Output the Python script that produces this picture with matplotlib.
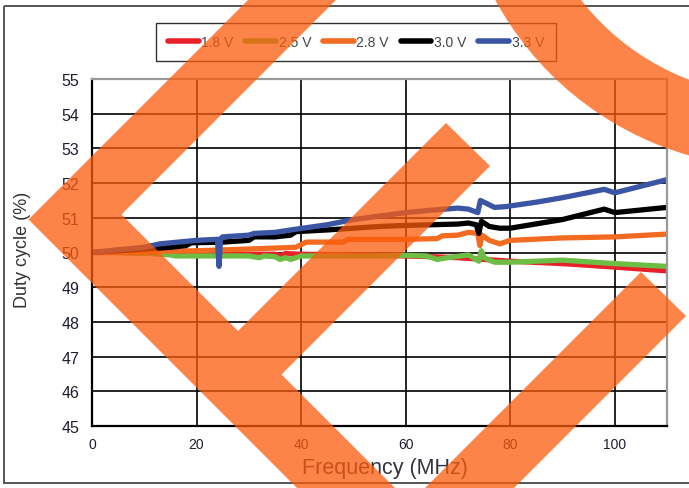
import numpy as np
import matplotlib
matplotlib.use('Agg')
import matplotlib.pyplot as plt
from matplotlib.patches import Polygon, Wedge, Rectangle

plt.rcParams['font.family'] = ['Liberation Sans', 'DejaVu Sans']

# duty cycle vs frequency
x_18 = [0, 5, 10, 15, 20, 30, 35, 36, 37, 40, 50, 60, 65, 70, 75, 80, 90, 100, 110]
y_18 = [50.0, 50.0, 49.98, 49.97, 49.95, 49.95, 49.95, 49.9, 49.97, 49.95, 49.93, 49.9, 49.88, 49.85, 49.8,
        49.75, 49.68, 49.58, 49.47]

x_25 = [0, 5, 10, 13, 15, 16, 20, 25, 30, 32, 33, 35, 36, 37, 38, 40, 45, 50, 55, 60, 64, 66, 68, 72,
        74, 74.5, 75, 77, 80, 90, 100, 110]
y_25 = [50.0, 50.0, 49.98, 49.95, 49.93, 49.9, 49.9, 49.9, 49.9, 49.85, 49.9, 49.88, 49.8, 49.85, 49.8,
        49.9, 49.9, 49.9, 49.9, 49.92, 49.9, 49.8, 49.85, 49.93, 49.75, 50.05, 49.85, 49.72, 49.72, 49.78,
        49.68, 49.6]

x_28 = [0, 10, 20, 30, 39, 41, 48, 49, 55, 60, 66, 67, 70, 72, 73.8, 74.2, 74.6, 76, 78, 80, 90, 100, 110]
y_28 = [50.0, 50.03, 50.05, 50.1, 50.15, 50.3, 50.3, 50.38, 50.38, 50.38, 50.4, 50.48, 50.5, 50.58, 50.55,
        50.2, 50.5, 50.35, 50.25, 50.35, 50.42, 50.45, 50.53]

x_30 = [0, 5, 10, 15, 18, 19, 25, 30, 31, 35, 38, 39, 45, 50, 55, 60, 65, 70, 72, 73.5, 74, 74.5, 76, 78,
        80, 90, 98, 100, 110]
y_30 = [50.0, 50.05, 50.1, 50.15, 50.2, 50.28, 50.3, 50.35, 50.45, 50.45, 50.5, 50.6, 50.65, 50.7, 50.75,
        50.78, 50.8, 50.82, 50.85, 50.8, 50.55, 50.9, 50.75, 50.7, 50.7, 50.95, 51.25, 51.15, 51.3]

x_33 = [0, 5, 10, 13, 20, 24, 24.3, 24.6, 25, 30, 31, 35, 38, 45, 50, 55, 60, 65, 70, 72, 73.8, 74.3, 75,
        77, 79, 85, 90, 98, 100, 110]
y_33 = [50.0, 50.08, 50.15, 50.25, 50.35, 50.38, 49.6, 50.4, 50.45, 50.5, 50.55, 50.58, 50.65, 50.8, 50.95,
        51.05, 51.15, 51.22, 51.28, 51.25, 51.15, 51.5, 51.45, 51.3, 51.32, 51.45, 51.58, 51.82, 51.72, 52.1]

labels = ['1.8 V', '2.5 V', '2.8 V', '3.0 V', '3.3 V']
colors = ['#E8202A', '#6DBE45', '#F26B21', '#000000', '#3A55A4']
xticks = [0, 20, 40, 60, 80, 100]
yticks = list(range(45, 56))

W, H = 689, 489
fig = plt.figure(figsize=(W / 100, H / 100), dpi=100)
fig.patch.set_facecolor('white')

ax = fig.add_axes([92 / W, 1 - 427 / H, (667 - 92) / W, (427 - 80) / H])
series = [(x_18, y_18), (x_25, y_25), (x_28, y_28), (x_30, y_30), (x_33, y_33)]
handles = []
for (xs, ys), lab, c in zip(series, labels, colors):
    h, = ax.plot(xs, ys, color=c, lw=3.8, label=lab, solid_capstyle='round', solid_joinstyle='round')
    handles.append(h)

ax.set_xlim(0, 110)
ax.set_ylim(45, 55)
ax.set_xticks(xticks)
ax.set_yticks(yticks)
ax.grid(True, color='black', lw=1.2)
ax.set_axisbelow(True)
ax.tick_params(length=0, colors='#1e1e30', pad=8)
ax.tick_params(axis='x', labelsize=10)
ax.tick_params(axis='y', labelsize=11.5, pad=9)
for s in ['left', 'bottom']:
    ax.spines[s].set_color('black')
    ax.spines[s].set_linewidth(1.6)
for s in ['top', 'right']:
    ax.spines[s].set_color('#999999')
    ax.spines[s].set_linewidth(1.6)

fig.text(23 / W, 1 - 250 / H, 'Duty cycle (%)', rotation=90, ha='center', va='center',
         fontsize=13, color='#333333')
fig.text(385 / W, 1 - 469 / H, 'Frequency (MHz)', ha='center', va='center',
         fontsize=15.5, color='#333340')

leg = fig.legend(handles, labels, loc='center', bbox_to_anchor=(356 / W, 1 - 43 / H), ncol=5,
                 frameon=True, fancybox=False, fontsize=10, handlelength=2.2, handletextpad=0.2,
                 columnspacing=0.85, borderpad=0.85, labelcolor='#444444')
leg.get_frame().set_edgecolor('black')
leg.get_frame().set_linewidth(1.0)
for ln in leg.get_lines():
    ln.set_linewidth(4)
    ln.set_solid_capstyle('round')

# overlay in pixel coordinates: border and the orange watermark, on top of everything
ov = fig.add_axes([0, 0, 1, 1])
ov.set_zorder(20)
ov.set_xlim(0, W)
ov.set_ylim(H, 0)
ov.axis('off')
ov.patch.set_alpha(0)
ov.add_patch(Rectangle((4, 7), 720, 477, fill=False, edgecolor='#555555', lw=1.4))

wm = '#FC5B0C'
chevron = [(299, -50), (28.5, 220.5), (348, 540), (446, 540), (281.5, 375.5), (490, 167),
           (446, 124), (238, 332), (121.5, 215.5), (387, -50)]
stripe = [(641, 273), (686, 317), (443, 560), (354, 560)]
ov.add_patch(Polygon(chevron, closed=True, facecolor=wm, alpha=0.75, lw=0))
ov.add_patch(Polygon(stripe, closed=True, facecolor=wm, alpha=0.75, lw=0))
ov.add_patch(Wedge((778, -153), 322, 0, 360, width=72, facecolor=wm, alpha=0.75, lw=0))

fig.savefig('out.png', dpi=100)
